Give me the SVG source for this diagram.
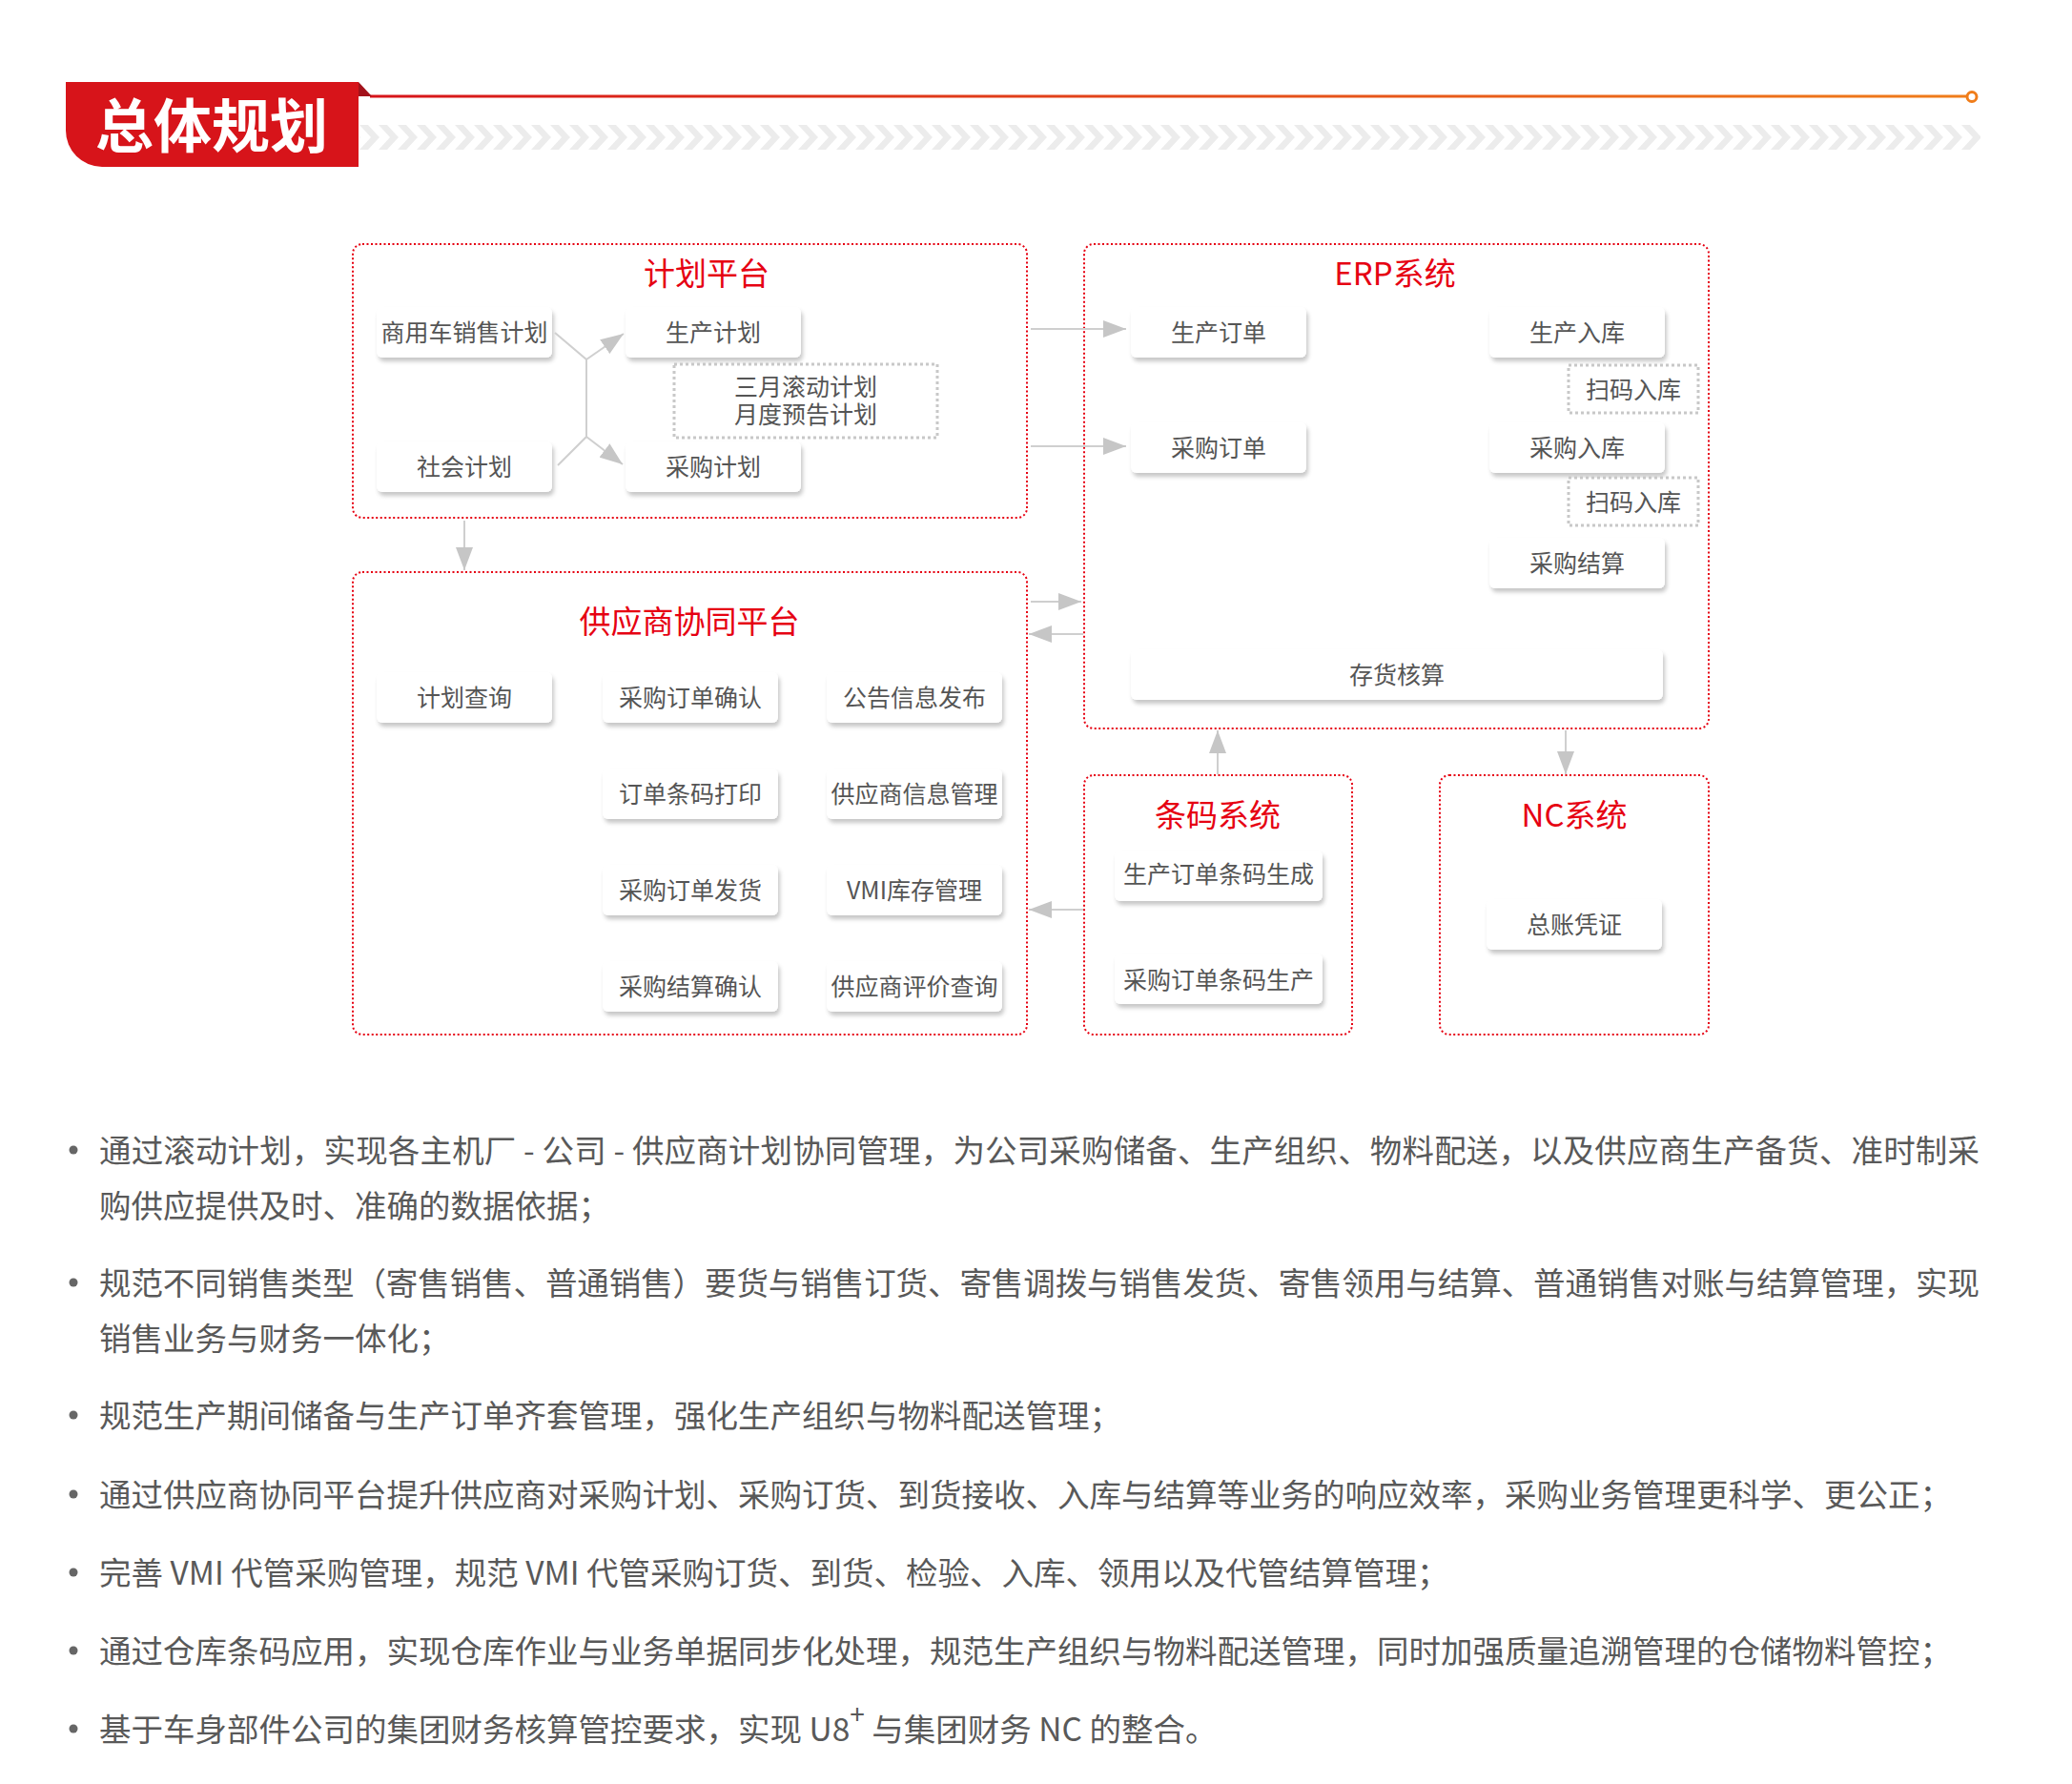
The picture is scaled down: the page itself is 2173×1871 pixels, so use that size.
<svg xmlns="http://www.w3.org/2000/svg" width="2173" height="1871" viewBox="0 0 2173 1871">
<defs>
<style>
.box{fill:#fff;stroke:#e60012;stroke-width:2;stroke-dasharray:2 2.5}
.gbox{fill:#fff;stroke:#c8c8c8;stroke-width:3;stroke-dasharray:3 3}
.node{fill:#fff;filter:url(#sh)}
.title{font-family:"Noto Sans CJK SC","Noto Sans",sans-serif;font-size:33px;fill:#e60012;text-anchor:middle;dominant-baseline:central}
.nt{font-family:"Noto Sans CJK SC","Noto Sans",sans-serif;font-size:25px;fill:#555;text-anchor:middle;dominant-baseline:central}
.conn{stroke:#cfcfcf;stroke-width:2;fill:none}
.arr{marker-end:url(#ah)}
.bt{font-family:"Noto Sans CJK SC","Noto Sans",sans-serif;font-size:33.5px;fill:#595959;dominant-baseline:central}
.dot{fill:#666}
</style>
<filter id="sh" x="-10%" y="-20%" width="130%" height="160%">
<feDropShadow dx="2" dy="4" stdDeviation="2" flood-color="#000" flood-opacity="0.22"/>
</filter>
<marker id="ah" markerUnits="userSpaceOnUse" markerWidth="24" markerHeight="18" refX="24" refY="9" orient="auto">
<path d="M0,0 L24,9 L0,18 z" fill="#c6c6c6"/>
</marker>
<linearGradient id="lg" x1="389" y1="0" x2="2064" y2="0" gradientUnits="userSpaceOnUse">
<stop offset="0" stop-color="#d7141a"/>
<stop offset="1" stop-color="#f07d1a"/>
</linearGradient>
<pattern id="chev" x="377" y="131" width="20" height="26" patternUnits="userSpaceOnUse">
<polygon points="0,0 9,0 21,13 9,26 0,26 12,13" fill="#ececec"/>
<polygon points="-20,0 -11,0 1,13 -11,26 -20,26 -8,13" fill="#ececec"/>
</pattern>
</defs>
<rect width="2173" height="1871" fill="#fff"/>

<g id="header">
<rect x="377" y="131" width="1700" height="26" fill="url(#chev)"/>
<line x1="388" y1="101" x2="2063" y2="101" stroke="url(#lg)" stroke-width="3"/>
<circle cx="2068" cy="101.5" r="5" fill="#fff" stroke="#f07d1a" stroke-width="3"/>
<path d="M69,86 H376 V175 H107 A38,38 0 0 1 69,137 Z" fill="#d7141a"/>
<polygon points="376,86 390,101 376,101" fill="#a3121b"/>
<text x="222" y="128" font-family="Noto Sans CJK SC,sans-serif" font-size="61" font-weight="bold" fill="#fff" text-anchor="middle" dominant-baseline="central">总体规划</text>
</g>

<g id="plan">
<rect class="box" x="370" y="256" width="707" height="287" rx="10"/>
<text class="title" x="741" y="285">计划平台</text>
<g id="plan-sales"><rect class="node" x="395" y="322" width="184" height="53" rx="6"/><text class="nt" x="487" y="347">商用车销售计划</text></g>
<g id="plan-prod"><rect class="node" x="656" y="322" width="184" height="53" rx="6"/><text class="nt" x="748" y="347">生产计划</text></g>
<g id="plan-roll"><rect class="gbox" x="707" y="382" width="276" height="77"/><text class="nt" x="845" y="404">三月滚动计划<tspan x="845" dy="29">月度预告计划</tspan></text></g>
<g id="plan-social"><rect class="node" x="395" y="463" width="184" height="53" rx="6"/><text class="nt" x="487" y="488">社会计划</text></g>
<g id="plan-purch"><rect class="node" x="656" y="463" width="184" height="53" rx="6"/><text class="nt" x="748" y="488">采购计划</text></g>
</g>

<g id="erp">
<rect class="box" x="1137" y="256" width="655" height="508" rx="10"/>
<text class="title" x="1463" y="285">ERP系统</text>
<g id="erp-po"><rect class="node" x="1186" y="322" width="184" height="53" rx="6"/><text class="nt" x="1278" y="347">生产订单</text></g>
<g id="erp-pin"><rect class="node" x="1562" y="322" width="184" height="53" rx="6"/><text class="nt" x="1654" y="347">生产入库</text></g>
<g id="erp-scan1"><rect class="gbox" x="1645" y="383" width="136" height="50"/><text class="nt" x="1713" y="407">扫码入库</text></g>
<g id="erp-puo"><rect class="node" x="1186" y="443" width="184" height="53" rx="6"/><text class="nt" x="1278" y="468">采购订单</text></g>
<g id="erp-puin"><rect class="node" x="1562" y="443" width="184" height="53" rx="6"/><text class="nt" x="1654" y="468">采购入库</text></g>
<g id="erp-scan2"><rect class="gbox" x="1645" y="501" width="136" height="50"/><text class="nt" x="1713" y="525">扫码入库</text></g>
<g id="erp-settle"><rect class="node" x="1562" y="564" width="184" height="53" rx="6"/><text class="nt" x="1654" y="589">采购结算</text></g>
<g id="erp-inv"><rect class="node" x="1186" y="681" width="558" height="53" rx="6"/><text class="nt" x="1465" y="706">存货核算</text></g>
</g>

<g id="supplier">
<rect class="box" x="370" y="600" width="707" height="485" rx="10"/>
<text class="title" x="723" y="650">供应商协同平台</text>
<g id="s1"><rect class="node" x="395" y="705" width="184" height="53" rx="6"/><text class="nt" x="487" y="730">计划查询</text></g>
<g id="s2"><rect class="node" x="632" y="705" width="184" height="53" rx="6"/><text class="nt" x="724" y="730">采购订单确认</text></g>
<g id="s3"><rect class="node" x="867" y="705" width="184" height="53" rx="6"/><text class="nt" x="959" y="730">公告信息发布</text></g>
<g id="s4"><rect class="node" x="632" y="806" width="184" height="53" rx="6"/><text class="nt" x="724" y="831">订单条码打印</text></g>
<g id="s5"><rect class="node" x="867" y="806" width="184" height="53" rx="6"/><text class="nt" x="959" y="831">供应商信息管理</text></g>
<g id="s6"><rect class="node" x="632" y="907" width="184" height="53" rx="6"/><text class="nt" x="724" y="932">采购订单发货</text></g>
<g id="s7"><rect class="node" x="867" y="907" width="184" height="53" rx="6"/><text class="nt" x="959" y="932">VMI库存管理</text></g>
<g id="s8"><rect class="node" x="632" y="1008" width="184" height="53" rx="6"/><text class="nt" x="724" y="1033">采购结算确认</text></g>
<g id="s9"><rect class="node" x="867" y="1008" width="184" height="53" rx="6"/><text class="nt" x="959" y="1033">供应商评价查询</text></g>
</g>

<g id="barcode">
<rect class="box" x="1137" y="813" width="281" height="272" rx="10"/>
<text class="title" x="1277" y="853">条码系统</text>
<g id="b1"><rect class="node" x="1169" y="892" width="218" height="53" rx="6"/><text class="nt" x="1278" y="915">生产订单条码生成</text></g>
<g id="b2"><rect class="node" x="1169" y="1000" width="218" height="53" rx="6"/><text class="nt" x="1278" y="1026">采购订单条码生产</text></g>
</g>

<g id="nc">
<rect class="box" x="1510" y="813" width="282" height="272" rx="10"/>
<text class="title" x="1651" y="853">NC系统</text>
<g id="n1"><rect class="node" x="1559" y="943" width="184" height="53" rx="6"/><text class="nt" x="1651" y="968">总账凭证</text></g>
</g>

<g id="connectors">
<polyline class="conn" points="582,349 615,377 615,458 585,488"/>
<line class="conn arr" x1="615" y1="377" x2="654" y2="350"/>
<line class="conn arr" x1="615" y1="458" x2="653" y2="487"/>
<line class="conn arr" x1="1081" y1="345" x2="1181" y2="345"/>
<line class="conn arr" x1="1081" y1="468" x2="1181" y2="468"/>
<line class="conn arr" x1="487" y1="546" x2="487" y2="598"/>
<line class="conn arr" x1="1081" y1="631" x2="1134" y2="631"/>
<line class="conn arr" x1="1136" y1="665" x2="1079" y2="665"/>
<line class="conn arr" x1="1277" y1="812" x2="1277" y2="766"/>
<line class="conn arr" x1="1642" y1="766" x2="1642" y2="812"/>
<line class="conn arr" x1="1136" y1="954" x2="1079" y2="954"/>
</g>

<g id="bullets">
<circle class="dot" cx="77" cy="1206" r="4.5"/>
<text class="bt" x="104" y="1204" textLength="1972" lengthAdjust="spacing">通过滚动计划，实现各主机厂 - 公司 - 供应商计划协同管理，为公司采购储备、生产组织、物料配送，以及供应商生产备货、准时制采</text>
<text class="bt" x="104" y="1262">购供应提供及时、准确的数据依据；</text>
<circle class="dot" cx="77" cy="1345" r="4.5"/>
<text class="bt" x="104" y="1343" textLength="1972" lengthAdjust="spacing">规范不同销售类型（寄售销售、普通销售）要货与销售订货、寄售调拨与销售发货、寄售领用与结算、普通销售对账与结算管理，实现</text>
<text class="bt" x="104" y="1401">销售业务与财务一体化；</text>
<circle class="dot" cx="77" cy="1484" r="4.5"/>
<text class="bt" x="104" y="1482">规范生产期间储备与生产订单齐套管理，强化生产组织与物料配送管理；</text>
<circle class="dot" cx="77" cy="1567" r="4.5"/>
<text class="bt" x="104" y="1565">通过供应商协同平台提升供应商对采购计划、采购订货、到货接收、入库与结算等业务的响应效率，采购业务管理更科学、更公正；</text>
<circle class="dot" cx="77" cy="1649" r="4.5"/>
<text class="bt" x="104" y="1647">完善 VMI 代管采购管理，规范 VMI 代管采购订货、到货、检验、入库、领用以及代管结算管理；</text>
<circle class="dot" cx="77" cy="1731" r="4.5"/>
<text class="bt" x="104" y="1729">通过仓库条码应用，实现仓库作业与业务单据同步化处理，规范生产组织与物料配送管理，同时加强质量追溯管理的仓储物料管控；</text>
<circle class="dot" cx="77" cy="1813" r="4.5"/>
<text class="bt" x="104" y="1811">基于车身部件公司的集团财务核算管控要求，实现 U8<tspan font-size="28" dy="-15">+</tspan><tspan dy="15"> 与集团财务 NC 的整合。</tspan></text>
</g>
</svg>
